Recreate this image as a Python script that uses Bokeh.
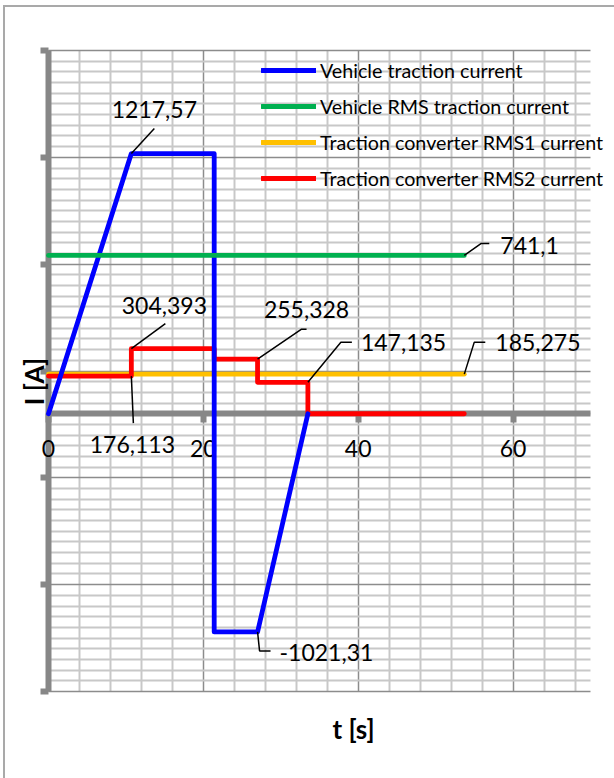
import math
from bokeh.plotting import figure
from bokeh.models import (Range1d, FixedTicker, Legend, LegendItem, Label,
                          CustomJSTickFormatter, LinearAxis)
from bokeh.core.properties import value
from bokeh.embed import file_html
from bokeh.resources import INLINE

# ---------------- data ----------------
t_vehicle = [0, 10.7, 21.4, 21.4, 27.0, 33.5]
i_vehicle = [0, 1217.57, 1217.57, -1021.31, -1021.31, 0]

t_rms = [0, 53.7]
i_vehicle_rms = [741.1, 741.1]
i_conv_rms1 = [185.275, 185.275]

t_conv_rms2 = [0, 10.7, 10.7, 21.4, 21.4, 27.0, 27.0, 33.5, 33.5, 53.7]
i_conv_rms2 = [176.113, 176.113, 304.393, 304.393, 255.328, 255.328,
               147.135, 147.135, 0, 0]

series_names = ["Vehicle traction current",
                "Vehicle RMS traction current",
                "Traction converter RMS1 current",
                "Traction converter RMS2 current"]

x_ticks = [0, 20, 40, 60]
x_tick_labels = ["0", "20", "40", "60"]
y_major = [-1300, -800, -300, 200, 700, 1200, 1700]
x_title = "t [s]"
y_title = "I [A]"

# annotated data points (t, I)
ann_t = [t_vehicle[1], t_rms[1], t_conv_rms2[2], t_conv_rms2[1],
         t_conv_rms2[5], t_conv_rms2[7], t_rms[1], t_vehicle[4]]
ann_i = [i_vehicle[1], i_vehicle_rms[1], i_conv_rms2[2], i_conv_rms2[1],
         i_conv_rms2[5], i_conv_rms2[7], i_conv_rms1[1], i_vehicle[4]]

# ---------------- layout constants ----------------
W, H = 614, 778
X0, X1, Y0, Y1 = 0, 70, -1300, 1700
# plot-area (data region) in canvas pixels
DL, DR, DT, DB = 48, 590, 50, 691
# frame in canvas pixels (larger, so nothing gets clipped)
FL, FR, FT, FB = 20, 614, 0, 748
SX = (DR - DL) / (X1 - X0)   # px per unit
SY = (DB - DT) / (Y1 - Y0)   # px per A

FONT = "Lato"

p = figure(width=W, height=H,
           x_range=Range1d(X0 - (DL - FL) / SX, X1 + (FR - DR) / SX),
           y_range=Range1d(Y0 - (FB - DB) / SY, Y1 + (DT - FT) / SY),
           output_backend="svg", toolbar_location=None,
           x_axis_location=None, y_axis_location=None,
           min_border_left=FL, min_border_right=W - FR,
           min_border_top=FT, min_border_bottom=H - FB)
p.background_fill_alpha = 0
p.border_fill_alpha = 0
p.outline_line_color = None
p.styles = {"background-color": "white",
            "box-shadow": "inset 3px 5px 0 0 #ffffff, inset 5px 7px 0 0 #a9a9a9"}

# grids limited to the plot area
x_minor = [v for v in range(X0, X1 + 1, 4) if v not in x_ticks]
y_minor = [v for v in range(Y0, Y1 + 1, 50) if v not in y_major]
p.xgrid.ticker = FixedTicker(ticks=x_ticks, minor_ticks=x_minor)
p.ygrid.ticker = FixedTicker(ticks=y_major, minor_ticks=y_minor)
p.xgrid.bounds = (X0 - 0.01, X1 + 0.01)
p.xgrid.cross_bounds = (Y0, Y1)
p.ygrid.bounds = (Y0 - 1, Y1 + 1)
p.ygrid.cross_bounds = (X0, X1)
for g in (p.xgrid, p.ygrid):
    g.grid_line_color = "#8c8c8c"
    g.grid_line_width = 1.5
    g.minor_grid_line_color = "#c8c8c8"
    g.minor_grid_line_width = 2
    g.level = "image"

AXC = "#878787"
xa = LinearAxis(fixed_location=0, bounds=(X0, X1),
                ticker=FixedTicker(ticks=x_ticks, minor_ticks=[]))
xa.axis_line_color = AXC
xa.axis_line_width = 6
xa.major_tick_line_color = AXC
xa.major_tick_line_width = 6
xa.major_tick_out = 9
xa.major_tick_in = 0
xa.minor_tick_line_color = None
xa.formatter = CustomJSTickFormatter(code="return ''")
xa.major_label_text_font_size = "1px"
xa.major_label_standoff = 0
xa.level = "underlay"
p.add_layout(xa, "below")

ya = LinearAxis(fixed_location=0, bounds=(Y0, Y1),
                ticker=FixedTicker(ticks=y_major, minor_ticks=[]))
ya.axis_line_color = AXC
ya.axis_line_width = 6
ya.major_tick_line_color = AXC
ya.major_tick_line_width = 6
ya.major_tick_out = 8
ya.major_tick_in = 0
ya.minor_tick_line_color = None
ya.formatter = CustomJSTickFormatter(code="return ''")
ya.major_label_text_font_size = "1px"
ya.major_label_standoff = 0
ya.level = "underlay"
p.add_layout(ya, "left")

# x tick labels under the axis line
p.text(x=x_ticks, y=[0] * len(x_ticks), text=x_tick_labels, y_offset=35,
       text_font=value(FONT), text_font_size=value("23px"), text_color="black",
       text_align="center", text_baseline="middle")

# series (draw order: orange, red, blue, green)
kw = dict(line_width=4.8, line_cap="round", line_join="round")
r_rms1 = p.line(t_rms, i_conv_rms1, line_color="#FFC000", **kw)
r_rms2 = p.line(t_conv_rms2, i_conv_rms2, line_color="#FF0000", **kw)
r_veh = p.line(t_vehicle, i_vehicle, line_color="#0000FF", **kw)
r_vrms = p.line(t_rms, i_vehicle_rms, line_color="#00B050", **kw)

# data labels: pixel offsets (right, up) of text and leader polylines
txt_off = [(23, 44, "center"), (36, 10, "left"), (33, 43, "center"),
           (1, -68, "center"), (49, 50, "center"), (53, 40, "left"),
           (31, 32, "left"), (22, -21, "left")]
lead_off = [[(0, 0), (23, 25)],
            [(0, 0), (17, 12), (25, 12)],
            [(0, 0), (34, 25)],
            [(0, 0), (2, -47)],
            [(0, 0), (44, 30), (49, 30)],
            [(0, 0), (33, 40), (44, 40)],
            [(0, 0), (10, 32), (21, 32)],
            [(0, 0), (2, -19), (13, -19)]]

def fmt(v):
    s = ("%.3f" % v).rstrip("0").rstrip(".")
    return s.replace(".", ",")

xs, ys = [], []
for t, i, offs in zip(ann_t, ann_i, lead_off):
    xs.append([t + dx / SX for dx, dy in offs])
    ys.append([i + dy / SY for dx, dy in offs])
p.multi_line(xs, ys, line_color="black", line_width=1.5)

for align in ("center", "left"):
    idx = [k for k, o in enumerate(txt_off) if o[2] == align]
    p.text(x=[ann_t[k] for k in idx], y=[ann_i[k] for k in idx],
           text=[fmt(ann_i[k]) for k in idx],
           x_offset=[txt_off[k][0] for k in idx],
           y_offset=[-txt_off[k][1] for k in idx],
           text_font=value(FONT), text_font_size=value("23px"),
           text_color="black", text_align=align, text_baseline="middle")

# legend (location: bottom-left of legend box, px from frame bottom-left)
legend = Legend(items=[LegendItem(label=series_names[0], renderers=[r_veh]),
                       LegendItem(label=series_names[1], renderers=[r_vrms]),
                       LegendItem(label=series_names[2], renderers=[r_rms1]),
                       LegendItem(label=series_names[3], renderers=[r_rms2])],
                location=(261 - FL, FB - 196), orientation="vertical",
                glyph_width=55, glyph_height=36, label_height=36,
                label_standoff=4, spacing=0, padding=0, margin=0,
                label_text_font=FONT, label_text_font_size="19.7px",
                label_text_color="black",
                background_fill_alpha=0, border_line_alpha=0)
p.add_layout(legend)

# axis titles
p.add_layout(Label(x=X0 + (33 - DL) / SX, y=Y1 - (381 - DT) / SY, text=y_title,
                   angle=math.pi / 2, text_font=FONT, text_font_size="26px",
                   text_font_style="bold", text_align="center",
                   text_baseline="middle", text_color="black"))
p.add_layout(Label(x=X0 + (353 - DL) / SX, y=Y1 - (728 - DT) / SY, text=x_title,
                   text_font=FONT, text_font_size="26px",
                   text_font_style="bold", text_align="center",
                   text_baseline="middle", text_color="black"))

open("out.html", "w").write(file_html(p, INLINE))
